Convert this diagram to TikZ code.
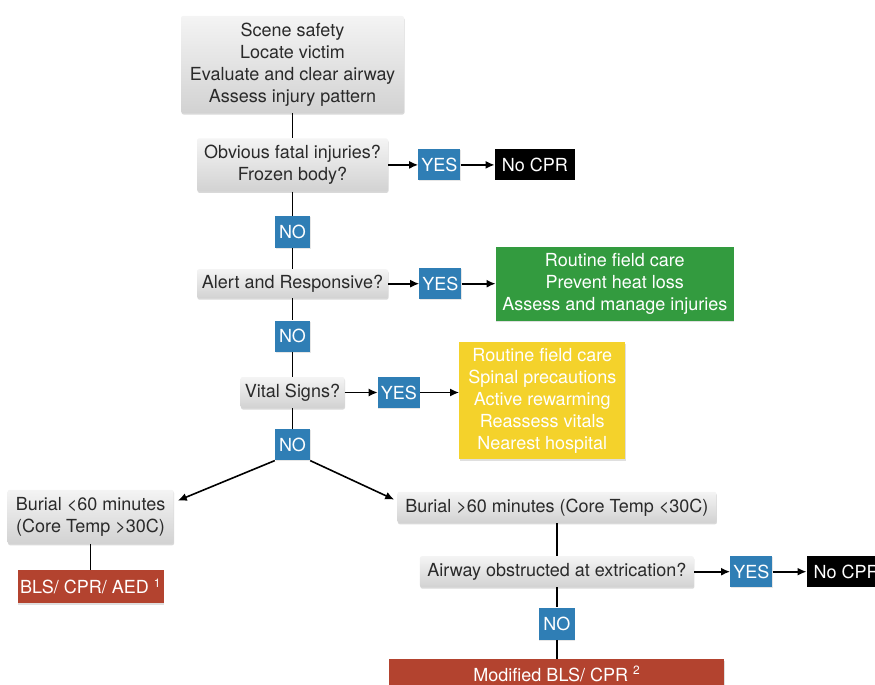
\documentclass[tikz,border=0pt]{standalone}
\usepackage{fontspec}
\setmainfont{TeX Gyre Heros}
\usetikzlibrary{arrows.meta,positioning,shadows}
\definecolor{boxtop}{HTML}{F4F4F4}
\definecolor{boxbottom}{HTML}{D2D2D2}
\definecolor{ink}{HTML}{2A2A2A}
\definecolor{answer}{HTML}{2F7EB5}
\definecolor{care}{HTML}{339B3F}
\definecolor{warm}{HTML}{F4D22B}
\definecolor{cpr}{HTML}{B3432F}

\begin{document}
\begin{tikzpicture}[
  x=1pt,y=1pt,
  font=\fontsize{18}{22}\selectfont,
  box/.style={top color=boxtop,bottom color=boxbottom,text=ink,rounded corners=2pt,
              drop shadow={opacity=0.3,shadow xshift=0.5pt,shadow yshift=-1.5pt},
              inner sep=0pt,align=center},
  answer/.style={fill=answer,text=white,inner sep=0pt,minimum height=31pt,
                 minimum width=42pt,drop shadow={opacity=0.2,shadow xshift=0.5pt,shadow yshift=-1pt}},
  nocpr/.style={fill=black,text=white,inner sep=0pt,minimum height=31pt,minimum width=80pt},
  result/.style={text=white,inner sep=0pt,align=center,
                 drop shadow={opacity=0.25,shadow xshift=0.5pt,shadow yshift=-1.5pt}},
  arrow/.style={-{Latex[length=9pt,width=8pt]},line width=1.6pt},
  link/.style={line width=1.6pt}
]
\useasboundingbox (0,0) rectangle (875,-685);

\node[box,minimum width=223pt,minimum height=97pt] (scene) at (292.5,-64.5)
  {Scene safety\\Locate victim\\Evaluate and clear airway\\Assess injury pattern};
\node[box,below=25pt of scene,minimum width=191pt,minimum height=53pt] (fatal)
  {Obvious fatal injuries?\\Frozen body?};
\node[answer,right=30pt of fatal] (yesfatal) {YES};
\node[nocpr,right=34pt of yesfatal] (nocprA) {No CPR};
\node[answer,below=24pt of fatal,minimum width=35pt,minimum height=32pt] (nofatal) {NO};

\node[box,below=21pt of nofatal,minimum width=191pt,minimum height=29pt] (alert)
  {Alert and Responsive?};
\node[answer,right=31pt of alert] (yesalert) {YES};
\node[result,fill=care,right=34pt of yesalert,minimum width=238pt,minimum height=74pt] (fieldcare)
  {Routine field care\\Prevent heat loss\\Assess and manage injuries};
\node[answer,below=22pt of alert,minimum width=35pt,minimum height=31pt] (noalert) {NO};

\node[box,below=25pt of noalert,minimum width=104pt,minimum height=31pt] (vital)
  {Vital Signs?};
\node[answer,right=33pt of vital] (yesvital) {YES};
\node[result,fill=warm,right=39pt of yesvital,yshift=-8pt,minimum width=166pt,minimum height=117pt] (rewarm)
  {Routine field care\\Spinal precautions\\Active rewarming\\Reassess vitals\\Nearest hospital};
\node[answer,below=21pt of vital,minimum width=35pt,minimum height=31pt] (novital) {NO};

% two burial branches
\node[box,below left=29pt and 101pt of novital,minimum width=166pt,minimum height=54pt] (shortburial)
  {Burial <60 minutes\\(Core Temp >30C)};
\node[result,fill=cpr,below=26pt of shortburial,minimum width=146pt,minimum height=33pt] (bls)
  {BLS/ CPR/ AED \textsuperscript{\fontsize{12}{12}\selectfont 1}};
\node[box,below right=31pt and 87pt of novital,minimum width=319pt,minimum height=31pt] (longburial)
  {Burial >60 minutes (Core Temp <30C)};
\node[box,below=33pt of longburial,minimum width=274pt,minimum height=31pt] (airway)
  {Airway obstructed at extrication?};
\node[answer,right=36pt of airway] (yesairway) {YES};
\node[nocpr,right=34pt of yesairway] (nocprB) {No CPR};
\node[answer,below=20pt of airway,minimum width=36pt,minimum height=32pt] (noairway) {NO};
\node[result,fill=cpr,below=19pt of noairway,minimum width=335pt,minimum height=30pt] (modified)
  {Modified BLS/ CPR \textsuperscript{\fontsize{12}{12}\selectfont 2}};

\draw[link] (scene)--(fatal);
\draw[arrow] (fatal)--(yesfatal);
\draw[arrow] (yesfatal)--(nocprA);
\draw[link] (fatal)--(nofatal);
\draw[link] (nofatal)--(alert);
\draw[arrow] (alert)--(yesalert);
\draw[arrow] (yesalert)--(yesalert-|fieldcare.west);
\draw[link] (alert)--(noalert);
\draw[link] (noalert)--(vital);
\draw[arrow] (vital)--(yesvital);
\draw[arrow] (yesvital)--(yesvital-|rewarm.west);
\draw[link] (vital)--(novital);
\draw[arrow] (novital.south west)--([xshift=4pt,yshift=-11pt]shortburial.north east);
\draw[arrow] (novital.south east)--([xshift=-3pt,yshift=-8pt]longburial.north west);
\draw[link] (shortburial)--(bls);
\draw[link] (longburial)--(airway);
\draw[arrow] (airway)--(yesairway);
\draw[arrow] (yesairway)--(nocprB);
\draw[link] (airway)--(noairway);
\draw[link] (noairway)--(modified);
\end{tikzpicture}
\end{document}
